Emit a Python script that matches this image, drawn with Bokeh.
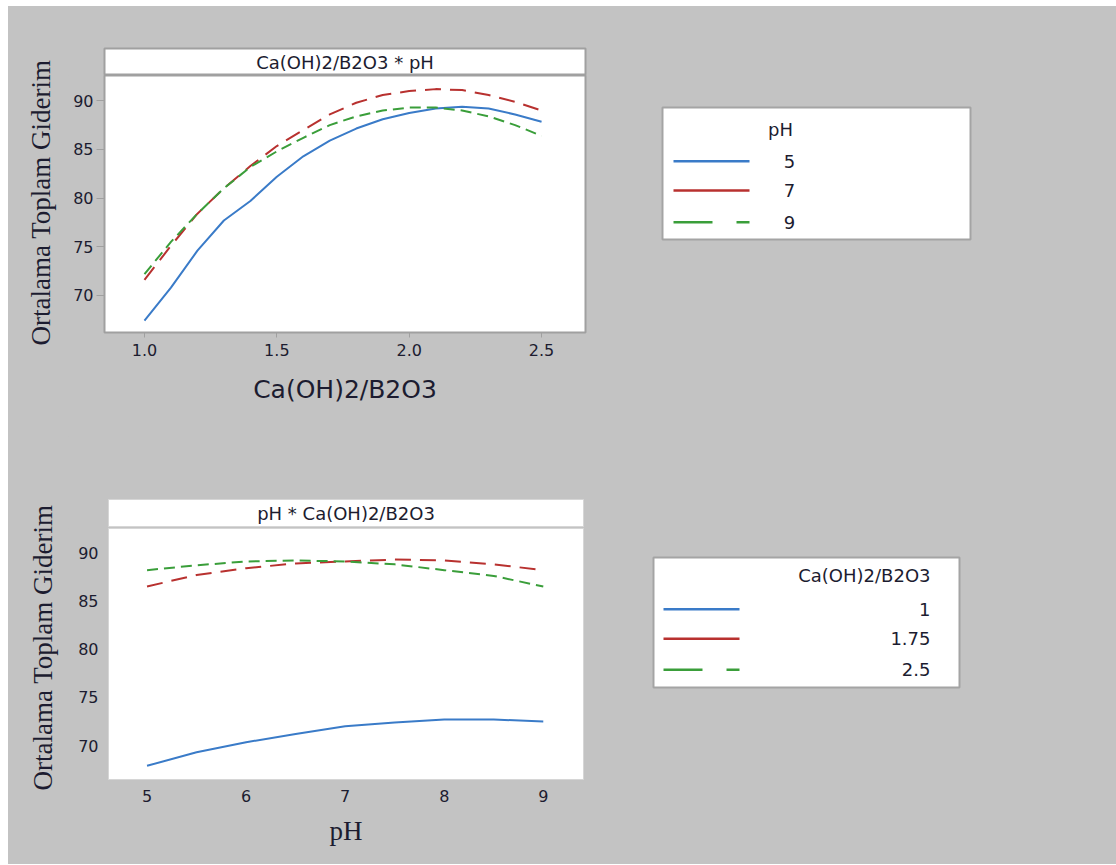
import math
from bokeh.plotting import figure
from bokeh.layouts import row, column
from bokeh.models import FixedTicker, Range1d
from bokeh.embed import file_html
from bokeh.resources import INLINE
from bokeh.core.properties import value

BG = "#c3c3c3"
SANS = "DejaVu Sans"
SERIF = "Liberation Serif"
TXT = "#1c1c30"
GRAYLINE = "#a0a0a0"
BGSTYLE = {"background-color": BG}

# ---------------- data ----------------
ratio_x = [1.0, 1.1, 1.2, 1.3, 1.4, 1.5, 1.6, 1.7, 1.8, 1.9, 2.0, 2.1, 2.2, 2.3, 2.4, 2.5]
ph5 = [67.4, 70.8, 74.6, 77.7, 79.7, 82.2, 84.3, 85.9, 87.15, 88.1, 88.75, 89.2, 89.4, 89.2, 88.6, 87.85]
ph7 = [71.6, 75.1, 78.4, 81.0, 83.3, 85.35, 87.0, 88.6, 89.8, 90.6, 91.0, 91.2, 91.1, 90.6, 89.9, 89.0]
ph9 = [72.2, 75.5, 78.4, 81.0, 83.2, 84.8, 86.2, 87.5, 88.4, 89.0, 89.3, 89.3, 89.0, 88.4, 87.5, 86.4]

ph_x = [5.0, 5.5, 6.0, 6.5, 7.0, 7.5, 8.0, 8.5, 9.0]
r1 = [67.9, 69.3, 70.35, 71.2, 72.0, 72.4, 72.7, 72.7, 72.5]
r175 = [86.5, 87.7, 88.4, 88.9, 89.1, 89.3, 89.2, 88.8, 88.2]
r25 = [88.2, 88.7, 89.1, 89.2, 89.1, 88.8, 88.2, 87.6, 86.5]

y_ticks = [70, 75, 80, 85, 90]
ratio_ticks = [1.0, 1.5, 2.0, 2.5]
ratio_tick_labels = ["1.0", "1.5", "2.0", "2.5"]
ph_ticks = [5, 6, 7, 8, 9]
ph_tick_labels = ["5", "6", "7", "8", "9"]

top_title = "Ca(OH)2/B2O3 * pH"
bottom_title = "pH * Ca(OH)2/B2O3"
y_label = "Ortalama Toplam Giderim"
top_xlabel = "Ca(OH)2/B2O3"
bottom_xlabel = "pH"

top_legend_title = "pH"
top_legend_labels = ["5", "7", "9"]
bottom_legend_title = "Ca(OH)2/B2O3"
bottom_legend_labels = ["1", "1.75", "2.5"]

colors = ["#3a7bc8", "#b8312f", "#3a9e3a"]
plot_dashes = ["solid", "16 9", "11 6"]
legend_dashes = ["solid", "solid", "39 24"]


def blank_fig(w, h, yrev=False):
    yr = Range1d(h, 0) if yrev else Range1d(0, h)
    p = figure(width=w, height=h, x_range=Range1d(0, w), y_range=yr,
               x_axis_type=None, y_axis_type=None, title=None,
               toolbar_location=None, output_backend="svg",
               min_border_left=0, min_border_right=0, min_border_top=0, min_border_bottom=0)
    p.background_fill_color = BG
    p.border_fill_color = BG
    p.outline_line_color = None
    p.styles = BGSTYLE
    return p


def ylabel_fig(w, h, cx, cy_from_top):
    p = blank_fig(w, h)
    p.text(x=[cx], y=[h - cy_from_top], text=[y_label], angle=math.pi / 2,
           text_font=value(SERIF), text_font_size="27px", text_align="center",
           text_baseline="middle", text_color=TXT)
    return p


def header_fig(w, h, bl, br, bt, bb, text, outline_color, outline_width):
    p = figure(width=w, height=h, x_range=Range1d(0, 1), y_range=Range1d(0, 1),
               x_axis_type=None, y_axis_type=None, title=None,
               toolbar_location=None, output_backend="svg",
               min_border_left=bl, min_border_right=br, min_border_top=bt, min_border_bottom=bb)
    p.background_fill_color = "white"
    p.border_fill_color = BG
    p.outline_line_color = outline_color
    p.outline_line_width = outline_width
    p.styles = BGSTYLE
    p.text(x=[0.5], y=[0.5], text=[text], text_font=value(SANS), text_font_size="18px",
           text_align="center", text_baseline="middle", text_color=TXT)
    return p


def plot_fig(w, h, bl, br, bb, xr, yr, xs, series, xticks, xtick_labels, xlabel, xfont, xsize,
             tick_len_x, tick_len_y, x_standoff, y_standoff, xl_standoff,
             outline_color, outline_width):
    p = figure(width=w, height=h, x_range=Range1d(*xr), y_range=Range1d(*yr), title=None,
               toolbar_location=None, output_backend="svg",
               min_border_left=bl, min_border_right=br, min_border_top=0, min_border_bottom=bb)
    p.background_fill_color = "white"
    p.border_fill_color = BG
    p.outline_line_color = outline_color
    p.outline_line_width = outline_width
    p.styles = BGSTYLE
    p.grid.visible = False
    for ys, c, d in zip(series, colors, plot_dashes):
        p.line(xs, ys, line_color=c, line_width=2, line_dash=d)

    xa = p.xaxis[0]
    xa.ticker = FixedTicker(ticks=xticks)
    xa.major_label_overrides = {t: l for t, l in zip(xticks, xtick_labels)}
    xa.axis_label = xlabel
    xa.axis_label_text_font = xfont
    xa.axis_label_text_font_size = xsize
    xa.axis_label_text_font_style = "normal"
    xa.axis_label_text_color = TXT
    xa.axis_label_standoff = xl_standoff
    xa.major_label_standoff = x_standoff
    xa.major_tick_out = tick_len_x
    xa.major_tick_in = 0

    ya = p.yaxis[0]
    ya.ticker = FixedTicker(ticks=y_ticks)
    ya.major_label_standoff = y_standoff
    ya.major_tick_out = tick_len_y
    ya.major_tick_in = 0

    for ax in (xa, ya):
        ax.axis_line_color = None
        ax.minor_tick_line_color = None
        ax.major_tick_line_color = GRAYLINE
        ax.major_tick_line_width = 1
        ax.major_label_text_font = SANS
        ax.major_label_text_font_size = "16px"
        ax.major_label_text_color = TXT
    return p


def legend_fig(w, h, box, title, title_xy, title_align, labels, label_x, label_align, ys, line_x0, line_x1):
    p = blank_fig(w, h, yrev=True)
    p.quad(left=[box[0]], right=[box[1]], top=[box[2]], bottom=[box[3]],
           fill_color="white", line_color="#a4a4a4", line_width=2)
    p.text(x=[title_xy[0]], y=[title_xy[1]], text=[title], text_font=value(SANS),
           text_font_size="18px", text_align=title_align, text_baseline="middle", text_color=TXT)
    for lab, yy, c, d in zip(labels, ys, colors, legend_dashes):
        p.line([line_x0, line_x1], [yy, yy], line_color=c, line_width=2.5, line_dash=d)
        p.text(x=[label_x], y=[yy], text=[lab], text_font=value(SANS), text_font_size="18px",
               text_align=label_align, text_baseline="middle", text_color=TXT)
    return p


# ---------------- top row (page y 6..436) ----------------
lab1 = ylabel_fig(60, 430, 32, 196)
h1 = header_fig(560, 69, 36, 43, 42, 0, top_title, GRAYLINE, 2)
p1 = plot_fig(560, 361, 36, 43, 104, (0.849, 2.666), (66.19, 92.6), ratio_x, [ph5, ph7, ph9],
              ratio_ticks, ratio_tick_labels, top_xlabel, SANS, "25px",
              5, 8, 6, 3, 16, GRAYLINE, 2)
l1 = legend_fig(488, 430, (34, 342, 101, 233), top_legend_title, (152, 123), "center",
                top_legend_labels, 161, "center", [154.7, 184, 215.7], 45, 121)

# ---------------- bottom row (page y 436..864) ----------------
lab2 = ylabel_fig(60, 428, 34, 211)
h2 = header_fig(560, 92, 40, 45, 63, 2, bottom_title, "#d6d6d6", 1)
p2 = plot_fig(560, 336, 40, 45, 85, (4.611, 9.406), (66.48, 92.52), ph_x, [r1, r175, r25],
              ph_ticks, ph_tick_labels, bottom_xlabel, SERIF, "27px",
              0, 0, 10, 10, 11, "#d6d6d6", 1)
l2 = legend_fig(487, 428, (25, 331, 121, 251), bottom_legend_title, (302, 139), "right",
                bottom_legend_labels, 302, "right", [172.7, 202.3, 233.3], 35, 111)

top_row = row(lab1, column(h1, p1, spacing=0, styles=BGSTYLE), l1, spacing=0, styles=BGSTYLE)
bottom_row = row(lab2, column(h2, p2, spacing=0, styles=BGSTYLE), l2, spacing=0, styles=BGSTYLE)
page = column(top_row, bottom_row, spacing=0, margin=(6, 0, 0, 8), styles=BGSTYLE)

with open("out.html", "w") as f:
    f.write(file_html(page, INLINE))
